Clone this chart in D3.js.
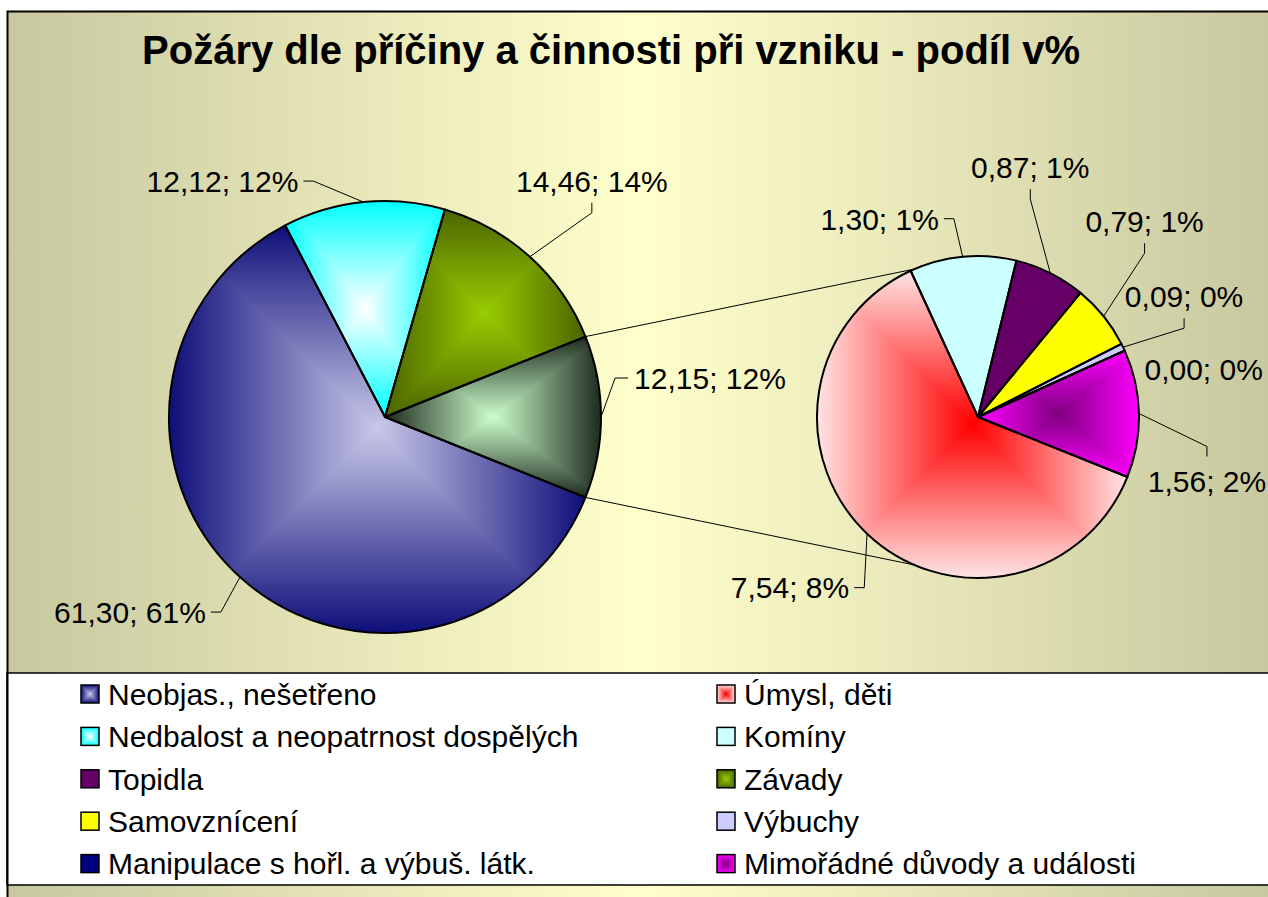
<!DOCTYPE html>
<html>
<head>
<meta charset="utf-8">
<script src="https://cdn.jsdelivr.net/npm/d3@7"></script>
<style>
  body { margin: 0; background: #fff; }
  svg { display: block; }
  text { font-family: "Liberation Sans", Arial, sans-serif; fill: #000; }
</style>
</head>
<body>
<div id="canvas"></div>
<script>
// data, in legend order (row by row)
const categories = [
  "Neobjas., nešetřeno",
  "Úmysl, děti",
  "Nedbalost a neopatrnost dospělých",
  "Komíny",
  "Topidla",
  "Závady",
  "Samovznícení",
  "Výbuchy",
  "Manipulace s hořl. a výbuš. látk.",
  "Mimořádné důvody a události"
];
const values = [61.30, 7.54, 12.12, 1.30, 0.87, 14.46, 0.79, 0.09, 0.00, 1.56];
const inSecondPlot = [false, true, false, true, true, false, true, true, true, true];
const otherName = "Ostatní";
const title = "Požáry dle příčiny a činnosti při vzniku - podíl v%";

// styles: solid colour or [centre, edge] for the "from centre" gradient
const fills = {
  "Neobjas., nešetřeno": ["#c8c8e8", "#0e0e7a"],
  "Úmysl, děti": ["#ff0000", "#ffe4e4"],
  "Nedbalost a neopatrnost dospělých": ["#ffffff", "#00ffff"],
  "Komíny": "#ccffff",
  "Topidla": "#660066",
  "Závady": ["#99cc00", "#4a6400"],
  "Samovznícení": "#ffff00",
  "Výbuchy": "#ccccff",
  "Manipulace s hořl. a výbuš. látk.": "#000080",
  "Mimořádné důvody a události": ["#800080", "#ff00ff"],
  "Ostatní": ["#ccffcc", "#1e2a1e"]
};

// where the labels sit, relative to the point where the leader meets the pie
const labelPos = {
  "Neobjas., nešetřeno": { dx: -110, dy: 35, side: "right" },
  "Nedbalost a neopatrnost dospělých": { dx: -141, dy: -21, side: "right" },
  "Závady": { dx: 62, dy: -76, side: "bottom" },
  "Ostatní": { dx: 109, dy: -39, side: "left" },
  "Úmysl, děti": { dx: -77, dy: 54, side: "right" },
  "Komíny": { dx: -83, dy: -38, side: "right" },
  "Topidla": { dx: -20, dy: -106, side: "bottom" },
  "Samovznícení": { dx: 41, dy: -95, side: "bottom" },
  "Výbuchy": { dx: 61, dy: -51, side: "bottom" },
  "Manipulace s hořl. a výbuš. látk.": { dx: 79, dy: 19, side: "none" },
  "Mimořádné důvody a události": { dx: 68, dy: 68, side: "top" }
};

const width = 1268;
const height = 897;
const main = { x: 385, y: 417, r: 216 };
const second = { x: 978, y: 417, r: 161 };
const labelSize = 30;

const svg = d3.select("#canvas").append("svg")
  .attr("width", width)
  .attr("height", height);
const defs = svg.append("defs");

// background
const bg = defs.append("linearGradient")
  .attr("id", "bg")
  .attr("gradientUnits", "userSpaceOnUse")
  .attr("x1", 8).attr("x2", 1272).attr("y1", 0).attr("y2", 0);
bg.append("stop").attr("offset", 0).attr("stop-color", "#c8c8a0");
bg.append("stop").attr("offset", 0.5).attr("stop-color", "#ffffcc");
bg.append("stop").attr("offset", 1).attr("stop-color", "#c8c8a0");

svg.append("rect")
  .attr("x", 7).attr("y", 11)
  .attr("width", 1300).attr("height", 1000)
  .attr("fill", "url(#bg)");

// rectangular gradient from the centre of a box, clipped to a shape
let gid = 0;
function gradient(id, from, to, colors) {
  const lg = defs.append("linearGradient")
    .attr("id", id)
    .attr("gradientUnits", "userSpaceOnUse")
    .attr("x1", from[0]).attr("y1", from[1])
    .attr("x2", to[0]).attr("y2", to[1]);
  lg.append("stop").attr("offset", 0).attr("stop-color", colors[0]);
  lg.append("stop").attr("offset", 1).attr("stop-color", colors[1]);
}

function rectGradient(g, box, colors, clipShape) {
  const [x0, y0, x1, y1] = box;
  const cx = (x0 + x1) / 2;
  const cy = (y0 + y1) / 2;
  const id = "rg" + gid++;
  clipShape(defs.append("clipPath").attr("id", id + "c"));
  const gg = g.append("g").attr("clip-path", `url(#${id}c)`);

  // left and right halves first, then top and bottom triangles over them
  gradient(id + "l", [cx, cy], [x0, cy], colors);
  gradient(id + "r", [cx, cy], [x1, cy], colors);
  gradient(id + "t", [cx, cy], [cx, y0], colors);
  gradient(id + "b", [cx, cy], [cx, y1], colors);
  gg.append("rect")
    .attr("x", x0 - 2).attr("y", y0 - 2)
    .attr("width", cx - x0 + 2.5).attr("height", y1 - y0 + 4)
    .attr("fill", `url(#${id}l)`);
  gg.append("rect")
    .attr("x", cx - 0.5).attr("y", y0 - 2)
    .attr("width", x1 - cx + 2.5).attr("height", y1 - y0 + 4)
    .attr("fill", `url(#${id}r)`);
  const w = x1 - x0;
  const h = y1 - y0;
  const ext = 2;
  const sx = ext * (w / 2) / (h / 2 || 1);
  gg.append("polygon")
    .attr("points", [[cx, cy], [x0 - sx, y0 - ext], [x1 + sx, y0 - ext]].map((p) => p.join(",")).join(" "))
    .attr("fill", `url(#${id}t)`);
  gg.append("polygon")
    .attr("points", [[cx, cy], [x1 + sx, y1 + ext], [x0 - sx, y1 + ext]].map((p) => p.join(",")).join(" "))
    .attr("fill", `url(#${id}b)`);
}

function arcBox(a0, a1, r) {
  const pt = (a) => [Math.sin(a) * r, -Math.cos(a) * r];
  const pts = [[0, 0], pt(a0), pt(a1)];
  for (let k = Math.ceil(a0 / (Math.PI / 2)); (k * Math.PI) / 2 < a1; k++) {
    pts.push(pt((k * Math.PI) / 2));
  }
  return [
    d3.min(pts, (p) => p[0]), d3.min(pts, (p) => p[1]),
    d3.max(pts, (p) => p[0]), d3.max(pts, (p) => p[1])
  ];
}

// split the data into the two pies
const total = d3.sum(values);
const idx = d3.range(categories.length);
const mainData = idx.filter((i) => !inSecondPlot[i])
  .map((i) => ({ name: categories[i], value: values[i] }));
const secData = idx.filter((i) => inSecondPlot[i])
  .map((i) => ({ name: categories[i], value: values[i] }));
const otherValue = d3.sum(secData, (d) => d.value);
mainData.push({ name: otherName, value: otherValue });

const half = (otherValue / d3.sum(mainData, (d) => d.value)) * Math.PI;
const start = Math.PI / 2 + half;
const pie = d3.pie().sort(null).value((d) => d.value)
  .startAngle(start).endAngle(start + 2 * Math.PI);

const mainArcs = pie(mainData);
const secArcs = pie(secData);

// legend box
svg.append("rect")
  .attr("x", 7).attr("y", 673)
  .attr("width", 1300).attr("height", 212)
  .attr("fill", "#fff")
  .attr("stroke", "#000")
  .attr("stroke-width", 1.5);

// connector lines between the pies
const otherArc = mainArcs[mainArcs.length - 1];
const corner = (a) => [main.x + Math.sin(a) * main.r, main.y - Math.cos(a) * main.r];
const p0 = corner(otherArc.startAngle);
const p1 = corner(otherArc.endAngle);
const upper = p0[1] < p1[1] ? p0 : p1;
const lower = p0[1] < p1[1] ? p1 : p0;
svg.append("line")
  .attr("x1", upper[0]).attr("y1", upper[1])
  .attr("x2", second.x).attr("y2", second.y - second.r)
  .attr("stroke", "#000").attr("stroke-width", 1);
svg.append("line")
  .attr("x1", lower[0]).attr("y1", lower[1])
  .attr("x2", second.x).attr("y2", second.y + second.r)
  .attr("stroke", "#000").attr("stroke-width", 1);

function drawPie(arcs, c) {
  const g = svg.append("g").attr("transform", `translate(${c.x},${c.y})`);
  const arc = d3.arc().innerRadius(0).outerRadius(c.r);
  arcs.forEach((d) => {
    const f = fills[d.data.name];
    if (Array.isArray(f) && d.value > 0) {
      rectGradient(g, arcBox(d.startAngle, d.endAngle, c.r), f,
        (cp) => cp.append("path").attr("d", arc(d)));
    } else {
      g.append("path").attr("d", arc(d)).attr("fill", f);
    }
  });
  g.selectAll("path.outline")
    .data(arcs)
    .join("path")
    .attr("class", "outline")
    .attr("d", arc)
    .attr("fill", "none")
    .attr("stroke", "#000")
    .attr("stroke-width", 2)
    .attr("stroke-linejoin", "round");
}

drawPie(mainArcs, main);
drawPie(secArcs, second);

// data labels with leader lines
const fmt = d3.formatLocale({
  decimal: ",", thousands: " ", grouping: [3], currency: ["", ""]
}).format(".2f");
const labelText = (v) => `${fmt(v)}; ${Math.round((v / total) * 100)}%`;

function drawLabels(arcs, c) {
  arcs.forEach((d) => {
    const mid = (d.startAngle + d.endAngle) / 2;
    const ex = c.x + Math.sin(mid) * c.r;
    const ey = c.y - Math.cos(mid) * c.r;
    const lp = labelPos[d.data.name];
    const lx = ex + lp.dx;
    const ly = ey + lp.dy;
    const t = svg.append("text")
      .attr("x", lx)
      .attr("y", ly + labelSize * 0.36)
      .attr("text-anchor", "middle")
      .attr("font-size", labelSize)
      .text(labelText(d.value));
    const w = t.node().getComputedTextLength();
    let attach = null;
    let knee = null;
    if (lp.side === "right") {
      attach = [lx + w / 2 + 5, ly];
      knee = [attach[0] + 10, ly];
    } else if (lp.side === "left") {
      attach = [lx - w / 2 - 6, ly];
      knee = [attach[0] - 13, ly];
    } else if (lp.side === "bottom") {
      attach = [lx, ly + 22];
      knee = [lx, ly + 32];
    } else if (lp.side === "top") {
      attach = [lx, ly - 25];
      knee = [lx, ly - 35];
    }
    if (attach) {
      svg.append("path")
        .attr("d", d3.line()([[ex, ey], knee, attach]))
        .attr("fill", "none")
        .attr("stroke", "#000")
        .attr("stroke-width", 1);
    }
  });
}

drawLabels(mainArcs, main);
drawLabels(secArcs, second);

// title
svg.append("text")
  .attr("x", 611)
  .attr("y", 64)
  .attr("text-anchor", "middle")
  .attr("font-size", 40)
  .attr("font-weight", "bold")
  .text(title);

// legend
const legend = svg.append("g");
categories.forEach((name, i) => {
  const col = i % 2;
  const row = Math.floor(i / 2);
  const mx = col === 0 ? 81 : 717;
  const cy = 694 + row * 42.4;
  const box = [mx, cy - 9, mx + 18, cy + 9];
  const f = fills[name];
  if (Array.isArray(f)) {
    rectGradient(legend, box, f, (cp) =>
      cp.append("rect").attr("x", box[0]).attr("y", box[1]).attr("width", 18).attr("height", 18));
  } else {
    legend.append("rect")
      .attr("x", box[0]).attr("y", box[1])
      .attr("width", 18).attr("height", 18)
      .attr("fill", f);
  }
  legend.append("rect")
    .attr("x", box[0]).attr("y", box[1])
    .attr("width", 18).attr("height", 18)
    .attr("fill", "none")
    .attr("stroke", "#000")
    .attr("stroke-width", 1.5);
  legend.append("text")
    .attr("x", mx + 27)
    .attr("y", cy + 10.8)
    .attr("font-size", 30)
    .text(name);
});

// outer frame
svg.append("rect")
  .attr("x", 7.5).attr("y", 11.5)
  .attr("width", 1300).attr("height", 1000)
  .attr("fill", "none")
  .attr("stroke", "#000")
  .attr("stroke-width", 2);
</script>
</body>
</html>
